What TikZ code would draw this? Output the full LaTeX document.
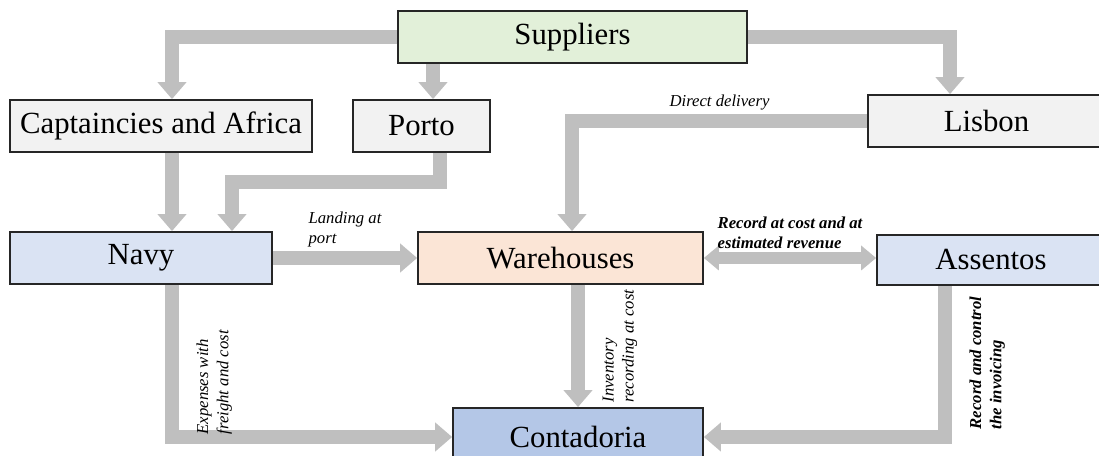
\documentclass[tikz,border=0pt]{standalone}
\usepackage{xcolor}
\usepackage{fontspec}
\setmainfont{Liberation Serif}
\usepackage{tikz}
\usetikzlibrary{arrows.meta, positioning, calc}

\definecolor{flowgray}{HTML}{BFBFBF}
\definecolor{supgreen}{HTML}{E2F0D9}
\definecolor{boxgray}{HTML}{F2F2F2}
\definecolor{paleblue}{HTML}{DAE3F3}
\definecolor{warepeach}{HTML}{FBE5D6}
\definecolor{contblue}{HTML}{B4C7E7}

\tikzstyle{flow} = [line width=0.28cm, draw=flowgray, -{Triangle[width=0.56cm,length=0.34cm]}]
\tikzstyle{twoflow} = [line width=0.24cm, draw=flowgray, {Triangle[width=0.48cm,length=0.3cm]}-{Triangle[width=0.48cm,length=0.3cm]}]

\begin{document}
\begin{tikzpicture}[x=0.02cm, y=0.02cm]
        \tikzstyle{box}=[
            rectangle,
            draw=black!85,
            line width=1pt,
            minimum height=1.04cm, % common height
            inner sep=0pt,
            font=\fontsize{17.5}{20}\selectfont
        ]
        \tikzstyle{lbl}=[font=\fontsize{9.5}{11.5}\selectfont\itshape, align=left, inner sep=2pt]
        \tikzstyle{lblb}=[lbl, font=\fontsize{9.5}{11.5}\selectfont\bfseries\itshape]
        \tikzstyle{vlbl}=[rotate=90, anchor=north, inner xsep=0pt, inner ysep=10pt]

        \useasboundingbox (0,0) rectangle (1099,456);

        \node[box, fill=supgreen, minimum width=6.98cm] (sup) at (572.5,419) {Suppliers};
        \node[box, fill=boxgray, minimum width=6.04cm] (cap) at (161,330) {Captaincies and Africa};
        \node[box, fill=boxgray, minimum width=2.74cm] (porto) at (421.5,330) {Porto};
        \node[box, fill=boxgray, minimum width=4.74cm] (lis) at (986.5,335) {Lisbon};
        \node[box, fill=paleblue, minimum width=5.24cm] (navy) at (141,198) {Navy};
        \node[box, fill=warepeach, minimum width=5.7cm] (ware) at (560.5,198) {Warehouses};
        \node[box, fill=paleblue, minimum width=4.56cm, minimum height=1cm] (ass) at (991,196) {Assentos};
        \node[box, fill=contblue, minimum width=5cm, minimum height=1.16cm] (cont) at (578,19) {Contadoria};

        % entry and exit points of the flows
        \coordinate (capin) at ($(cap.north)+(11,0)$);
        \coordinate (portoin) at ($(porto.north)+(11.5,0)$);
        \coordinate (lisin) at ($(lis.north)+(-36.5,0)$);
        \coordinate (capout) at ($(cap.south)+(11,0)$);
        \coordinate (navyin) at ($(navy.north)+(31,0)$);
        \coordinate (portoout) at ($(porto.south)+(18.5,0)$);
        \coordinate (navyin2) at ($(navy.north)+(91,0)$);
        \coordinate (pbend) at ($(navyin2)+(0,49)$);
        \coordinate (warein) at ($(ware.north)+(11.5,0)$);
        \coordinate (navyout) at ($(navy.south)+(31,0)$);
        \coordinate (wareout) at ($(ware.south)+(17.5,0)$);
        \coordinate (assout) at ($(ass.south)+(-46,0)$);

        \draw[flow] (sup.west) -| (capin);
        \draw[flow] (sup.south -| portoin) -- (portoin);
        \draw[flow] (sup.east) -| (lisin);
        \draw[flow] (capout) -- (navyin);
        \draw[flow] (portoout) |- (pbend) -- (navyin2);

        \draw[flow] (lis.west) -| node[lbl, pos=0.25, above] {Direct delivery} (warein);
        \draw[flow] (navy.east) -- node[lbl, above] {Landing at\\port} (ware.west);
        \draw[twoflow] (ware.east) --
            node[lblb, above] {Record at cost and at\\estimated revenue}
            (ware.east -| ass.west);

        \draw[flow] (navyout) |-
            node[lbl, vlbl, pos=0.32] {Expenses with\\freight and cost}
            (cont.west);
        \draw[flow] (wareout) --
            node[lbl, vlbl] {Inventory\\recording at cost}
            (wareout |- cont.north);
        \draw[flow] (assout) |-
            node[lblb, vlbl, pos=0.255] {Record and control\\the invoicing}
            (cont.east);

    \end{tikzpicture}
\end{document}
